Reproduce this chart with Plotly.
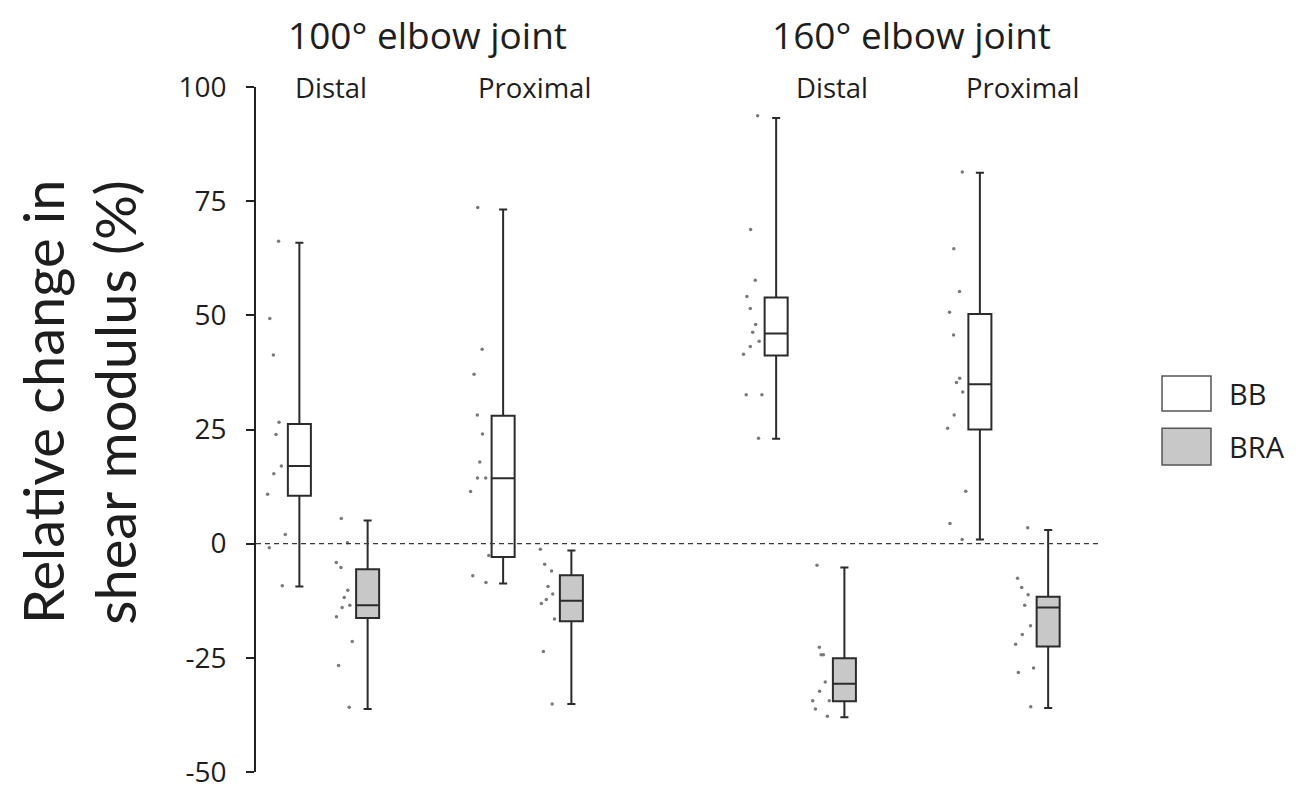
import plotly.graph_objects as go

# ---------------- data ----------------
joint_angles = ["100° elbow joint", "160° elbow joint"]
sites = ["Distal", "Proximal", "Distal", "Proximal"]
muscles = ["BB", "BRA"]

# order: 100 Distal BB, 100 Distal BRA, 100 Prox BB, 100 Prox BRA,
#        160 Distal BB, 160 Distal BRA, 160 Prox BB, 160 Prox BRA
upper_whisker = [65.9, 5.1, 73.2, -1.5, 93.2, -5.2, 81.2, 3.0]
q3_values = [26.2, -5.6, 28.0, -6.9, 53.9, -25.1, 50.3, -11.6]
median_values = [17.0, -13.5, 14.3, -12.5, 46.0, -30.7, 34.9, -14.0]
q1_values = [10.5, -16.3, -2.9, -17.0, 41.2, -34.5, 25.0, -22.5]
lower_whisker = [-9.4, -36.2, -8.7, -35.1, 23.0, -38.0, 0.9, -36.0]

bb_100_distal = [66.2, 49.3, 41.3, 26.6, 23.9, 17.0, 15.3, 10.8, 2.0, -0.9, -9.2]
bra_100_distal = [5.5, 0.2, -4.1, -5.2, -10.2, -11.8, -13.5, -14.0, -16.0, -21.4, -26.7, -35.8]
bb_100_proximal = [73.6, 42.6, 37.1, 28.2, 24.0, 17.9, 14.4, 14.4, 11.4, -2.6, -7.0, -8.5]
bra_100_proximal = [-1.2, -4.5, -6.0, -9.4, -11.0, -12.2, -13.1, -16.5, -23.6, -35.1]
bb_160_distal = [93.7, 68.8, 57.7, 54.1, 51.5, 48.0, 46.3, 44.3, 43.2, 41.5, 32.6, 32.6, 23.1]
bra_160_distal = [-4.7, -22.7, -24.3, -24.3, -30.3, -32.3, -34.4, -34.4, -36.2, -37.8]
bb_160_proximal = [81.4, 64.6, 55.2, 50.7, 45.7, 36.2, 35.3, 33.2, 28.2, 25.3, 11.5, 4.4, 0.9]
bra_160_proximal = [3.5, -7.6, -9.6, -11.2, -13.5, -18.0, -19.9, -22.0, -27.2, -28.2, -35.7]

individual_points = [bb_100_distal, bra_100_distal, bb_100_proximal, bra_100_proximal,
                     bb_160_distal, bra_160_distal, bb_160_proximal, bra_160_proximal]

y_ticks = [100, 75, 50, 25, 0, -25, -50]
y_tick_labels = ["100", "75", "50", "25", "0", "-25", "-50"]

# ---------------- layout constants ----------------
group_pos = [1.0, 2.0, 3.34, 4.34]
muscle_offset = {"BB": -0.1675, "BRA": 0.1675}
box_w = 0.113
fills = {"BB": "#ffffff", "BRA": "#c8c8c8"}
line_col = "#2b2b2b"
FONT = "Open Sans"

fig = go.Figure()

k = 0
for g, gp in enumerate(group_pos):
    for m in muscles:
        xpos = gp + muscle_offset[m]
        # individual data points (drawn by plotly's own jitter)
        fig.add_trace(go.Box(
            y=individual_points[k], x0=xpos, width=box_w,
            boxpoints="all", jitter=1.0, pointpos=-2.0,
            marker=dict(size=3.5, color="#7a7a7a"),
            fillcolor="rgba(0,0,0,0)",
            line=dict(width=0, color="rgba(0,0,0,0)"),
            whiskerwidth=0, showlegend=False, hoverinfo="y",
        ))
        # summary box
        fig.add_trace(go.Box(
            x=[xpos], q1=[q1_values[k]], median=[median_values[k]],
            q3=[q3_values[k]], lowerfence=[lower_whisker[k]],
            upperfence=[upper_whisker[k]],
            width=box_w, fillcolor=fills[m],
            line=dict(color=line_col, width=2),
            whiskerwidth=0.35, boxpoints=False,
            name=m, showlegend=False,
        ))
        k += 1

# dashed zero line
fig.add_shape(type="line", xref="paper", yref="y", x0=0, x1=1, y0=0, y1=0,
              line=dict(color="#3a3a3a", width=1.2, dash="5px,4px"))

annotations = []
# joint-angle headers
header_x = [1.463, 3.837]
for hx, txt in zip(header_x, joint_angles):
    annotations.append(dict(x=hx, y=1.077, xref="x", yref="paper", text=txt,
                            showarrow=False, xanchor="center", yanchor="middle",
                            font=dict(family=FONT, size=37, color="#1e1e1e")))
# site labels
site_x = [0.99, 1.985, 3.448, 4.384]
for sx, txt in zip(site_x, sites):
    annotations.append(dict(x=sx, y=1.0, xref="x", yref="paper", text=txt,
                            showarrow=False, xanchor="center", yanchor="middle",
                            font=dict(family=FONT, size=27.5, color="#1e1e1e")))
# y-axis title (two lines)
annotations.append(dict(x=-0.253, y=0.541, xref="paper", yref="paper",
                        text="Relative change in", textangle=-90, showarrow=False,
                        xanchor="center", yanchor="middle",
                        font=dict(family="Lato", size=56, color="#1e1e1e")))
annotations.append(dict(x=-0.167, y=0.539, xref="paper", yref="paper",
                        text="shear modulus (%)", textangle=-90, showarrow=False,
                        xanchor="center", yanchor="middle",
                        font=dict(family="Lato", size=56, color="#1e1e1e")))

# manual legend
leg_boxes = [(0.527, 0.578), (0.448, 0.502)]
leg_text_y = [0.552, 0.475]
for m, (y0, y1), ty in zip(muscles, leg_boxes, leg_text_y):
    fig.add_shape(type="rect", xref="paper", yref="paper",
                  x0=1.0735, x1=1.1315, y0=y0, y1=y1,
                  fillcolor=fills[m], line=dict(color="#555555", width=1.5))
    annotations.append(dict(x=1.1505, y=ty, xref="paper", yref="paper", text=m,
                            showarrow=False, xanchor="left", yanchor="middle",
                            font=dict(family=FONT, size=29, color="#1e1e1e")))

fig.update_layout(
    width=1301, height=792,
    margin=dict(l=256, r=201, t=87, b=20, autoexpand=False),
    paper_bgcolor="white", plot_bgcolor="white",
    boxmode="overlay",
    annotations=annotations,
    xaxis=dict(range=[0.6196, 4.762], visible=False, automargin=False),
    yaxis=dict(range=[-50, 100], showgrid=False, zeroline=False,
               automargin=False,
               showline=True, linecolor="#222222", linewidth=1.8,
               ticks="outside", ticklen=8, tickwidth=1.8, tickcolor="#222222",
               tickvals=y_ticks, ticktext=y_tick_labels,
               ticklabelstandoff=14, ticklabeloverflow="allow",
               tickfont=dict(family=FONT, size=28, color="#1e1e1e")),
)

fig.write_html("out.html",
               config={"displayModeBar": False},
               post_script="document.body.style.margin='0px';document.body.style.overflow='hidden';")
